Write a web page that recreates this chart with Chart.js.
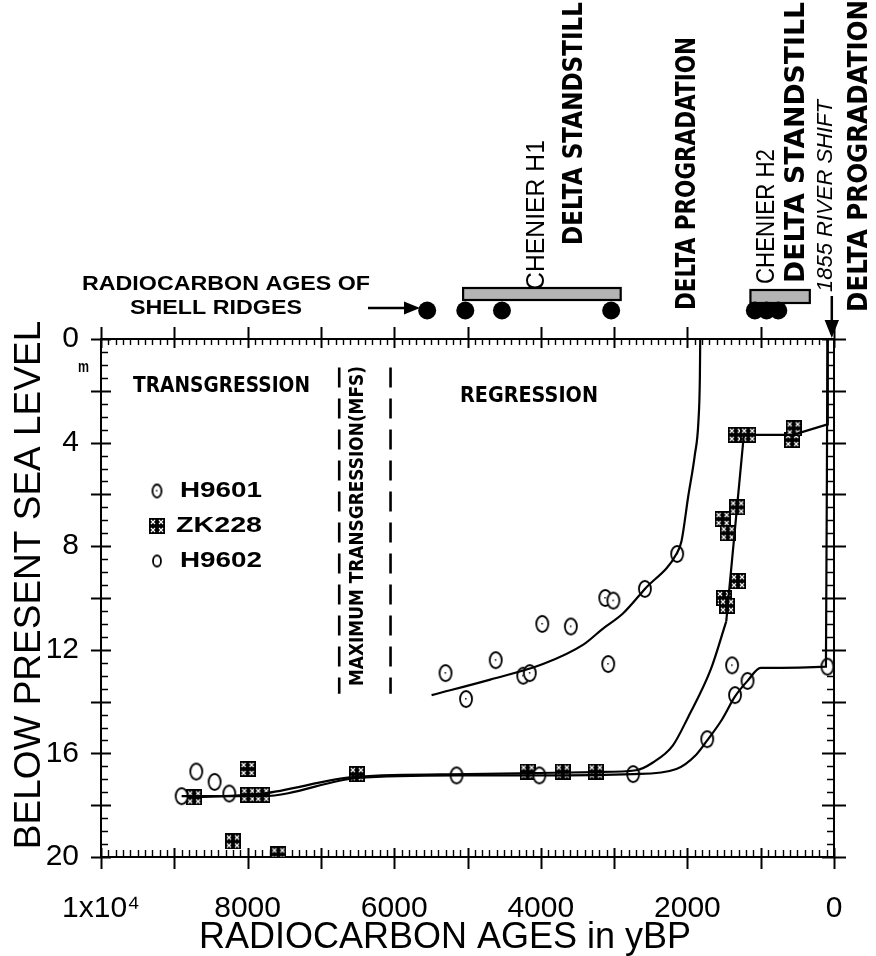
<!DOCTYPE html>
<html><head><meta charset="utf-8">
<script src="https://cdn.jsdelivr.net/npm/chart.js@4/dist/chart.umd.min.js"></script>
<style>html,body{margin:0;padding:0;background:#fff;}canvas{display:block;}</style>
</head><body>
<canvas id="c" width="876" height="956"></canvas>
<script>
// ---------- DATA ----------
const xTickValues = [10000, 8000, 6000, 4000, 2000, 0];
const xTickLabels = ['1x10⁴', '8000', '6000', '4000', '2000', '0'];
const yTickValues = [0, 4, 8, 12, 16, 20];
const seriesNames = ['H9601', 'ZK228', 'H9602'];
const xTitle = 'RADIOCARBON AGES in yBP';
const yTitle = 'BELOW PRESENT SEA LEVEL';

// H9601 samples (age yBP, depth m below present sea level)
const h9601Age   = [5300, 5020, 4615, 4240, 4150, 3980, 3590, 3080, 3120, 3010, 2580, 2140, 1390];
const h9601Depth = [12.9, 13.9, 12.4, 13.0, 12.9, 11.0, 11.1, 12.55, 10.0, 10.1, 9.65, 8.3, 12.6];

// ZK228 samples
const zk228Age   = [8730, 8000, 7990, 7800, 8200, 7580, 6510, 4180, 3700, 3250, 1520, 1450, 1320, 1500, 1460, 1310, 1340, 1170, 570, 550];
const zk228Depth = [17.7, 16.6, 17.6, 17.6, 19.4, 19.9, 16.8, 16.7, 16.7, 16.7, 6.95, 7.5, 6.5, 10.0, 10.3, 9.35, 3.7, 3.7, 3.9, 3.45];

// H9602 samples
const h9602Age   = [8900, 8700, 8450, 8250, 5150, 4020, 2740, 1730, 1350, 1180, 90];
const h9602Depth = [17.65, 16.7, 17.1, 17.55, 16.85, 16.85, 16.8, 15.45, 13.75, 13.2, 12.65];

// hand-drawn curves through the samples
const curveH9601Age   = [5490, 4690, 3970, 3420, 3160, 2880, 2580, 2140, 2080, 1990, 1900, 1850, 1830, 1825];
const curveH9601Depth = [13.75, 13.15, 12.55, 11.8, 11.2, 10.6, 9.65, 8.25, 7.8, 6.1, 4.5, 3.2, 1.5, 0];
const curveH9602Age   = [8900, 7800, 6500, 5150, 4000, 2740, 2150, 1880, 1730, 1530, 1350, 1180, 1000, 110, 90];
const curveH9602Depth = [17.65, 17.65, 16.95, 16.85, 16.85, 16.8, 16.6, 16.05, 15.5, 14.7, 13.8, 13.2, 12.7, 12.65, 0];
const curveZK228Age   = [8730, 7800, 6500, 5000, 3250, 2700, 2470, 2200, 1990, 1680, 1470];
const curveZK228Depth = [17.7, 17.55, 16.9, 16.8, 16.72, 16.65, 16.35, 15.7, 14.6, 12.75, 10.9];
const curveZK228UpperAge   = [1470, 1230, 560, 90, 85];
const curveZK228UpperDepth = [10.9, 3.7, 3.7, 3.3, 0];

// maximum transgression (MFS) bounds, yBP, and depth extent of the dashed lines
const mfsAges = [6750, 6050];
const mfsDepthRange = [1.1, 13.7];

// radiocarbon ages of shell ridges (yBP) and chenier standstill bars
const shellRidgeAge = [5550, 5030, 4530, 3040, 1080, 920, 760];
const chenierFrom = [5060, 1140];
const chenierTo   = [2910, 330];
const riverShiftAge = 30;

// ---------- MARKERS ----------
function ellipseMarker(w, h, dot) {
  const c = document.createElement('canvas'); c.width = w + 4; c.height = h + 4;
  const g = c.getContext('2d');
  g.fillStyle = '#fff'; g.strokeStyle = '#000'; g.lineWidth = 1.8;
  g.beginPath(); g.ellipse(c.width / 2, c.height / 2, w / 2, h / 2, 0, 0, Math.PI * 2); g.fill(); g.stroke();
  if (dot) { g.fillStyle = '#000'; g.fillRect(c.width / 2 - 1, c.height / 2 - 1, 1.5, 1.5); }
  return c;
}
function squareMarker(s) {
  const c = document.createElement('canvas'); c.width = s; c.height = s;
  const g = c.getContext('2d');
  g.fillStyle = '#000'; g.fillRect(0, 0, s, s);
  g.strokeStyle = '#fff'; g.lineWidth = 1.2;
  const q = s / 4;
  [[q, q], [3 * q, q], [q, 3 * q], [3 * q, 3 * q]].forEach(([cx, cy]) => {
    g.beginPath(); g.moveTo(cx - 2, cy - 2); g.lineTo(cx + 2, cy + 2); g.moveTo(cx + 2, cy - 2); g.lineTo(cx - 2, cy + 2); g.stroke();
  });
  return c;
}
const mkH9601 = ellipseMarker(12, 16, true);
const mkH9602 = ellipseMarker(12, 16, false);
const mkZK228 = squareMarker(16);
const mkLegH9601 = ellipseMarker(9, 13, true);
const mkLegH9602 = ellipseMarker(8, 11, false);

const pts = (a, d) => a.map((v, i) => ({ x: v, y: d[i] }));
const RIDGE_ROW = -1.1;

const SANS = "'Liberation Sans', Arial, sans-serif";
const STENCIL = "'DejaVu Sans', sans-serif";

function hText(ctx, text, x, y, font, width) {
  ctx.save(); ctx.font = font; const w = ctx.measureText(text).width;
  ctx.translate(x, y); ctx.scale(width / w, 1);
  ctx.textAlign = 'left'; ctx.textBaseline = 'middle'; ctx.fillStyle = '#000';
  ctx.fillText(text, 0, 0); ctx.restore();
}
function vText(ctx, text, x, yBottom, font, length) {
  ctx.save(); ctx.font = font; const w = ctx.measureText(text).width;
  ctx.translate(x, yBottom); ctx.rotate(-Math.PI / 2); ctx.scale(length / w, 1);
  ctx.textAlign = 'left'; ctx.textBaseline = 'middle'; ctx.fillStyle = '#000';
  ctx.fillText(text, 0, 0); ctx.restore();
}
function arrow(ctx, x1, y1, x2, y2, head) {
  const ang = Math.atan2(y2 - y1, x2 - x1);
  ctx.save(); ctx.strokeStyle = '#000'; ctx.fillStyle = '#000'; ctx.lineWidth = 2.5;
  ctx.beginPath(); ctx.moveTo(x1, y1);
  ctx.lineTo(x2 - Math.cos(ang) * head, y2 - Math.sin(ang) * head); ctx.stroke();
  ctx.beginPath(); ctx.moveTo(x2, y2);
  ctx.lineTo(x2 - Math.cos(ang) * head - Math.sin(ang) * head * 0.4, y2 - Math.sin(ang) * head + Math.cos(ang) * head * 0.4);
  ctx.lineTo(x2 - Math.cos(ang) * head + Math.sin(ang) * head * 0.4, y2 - Math.sin(ang) * head - Math.cos(ang) * head * 0.4);
  ctx.closePath(); ctx.fill(); ctx.restore();
}

const framePlugin = {
  id: 'frame',
  beforeDatasetsDraw(chart) {
    const { ctx, chartArea: { left, right, top, bottom }, scales: { x, y } } = chart;
    ctx.save(); ctx.strokeStyle = '#000';
    ctx.lineWidth = 2;
    ctx.strokeRect(left, top, right - left, bottom - top);
    for (let v = 0; v <= 10000; v += 100) {
      const px = Math.round(x.getPixelForValue(v)) + 0.5;
      ctx.beginPath();
      if (v % 1000 === 0) {
        ctx.lineWidth = 2;
        ctx.moveTo(px, top - 12); ctx.lineTo(px, top + 9);
        ctx.moveTo(px, bottom - 9); ctx.lineTo(px, bottom + 12);
      } else {
        ctx.lineWidth = 1.4;
        ctx.moveTo(px, top); ctx.lineTo(px, top + 6);
        ctx.moveTo(px, bottom); ctx.lineTo(px, bottom - 7);
      }
      ctx.stroke();
    }
    for (let v = 0; v <= 20; v += 0.5) {
      const py = Math.round(y.getPixelForValue(v)) + 0.5;
      ctx.beginPath();
      if (v % 2 === 0) {
        ctx.lineWidth = 2;
        ctx.moveTo(left - 10, py); ctx.lineTo(left + 10, py);
        ctx.moveTo(right - 12, py); ctx.lineTo(right + 12, py);
      } else {
        ctx.lineWidth = 1.4;
        ctx.moveTo(left, py); ctx.lineTo(left + 7, py);
        ctx.moveTo(right, py); ctx.lineTo(right - 7, py);
      }
      ctx.stroke();
    }
    // chenier standstill bars
    const barRows = [[288, 300], [290, 303]];
    chenierFrom.forEach((a, i) => {
      const x1 = x.getPixelForValue(a), x2 = x.getPixelForValue(chenierTo[i]);
      const [y1, y2] = barRows[i];
      ctx.fillStyle = '#b4b4b4'; ctx.fillRect(x1, y1, x2 - x1, y2 - y1);
      ctx.lineWidth = 2.2; ctx.strokeRect(x1, y1, x2 - x1, y2 - y1);
    });
    // radiocarbon ages of shell ridges (drawn outside the plot area)
    ctx.fillStyle = '#000';
    const ry = y.getPixelForValue(RIDGE_ROW);
    shellRidgeAge.forEach(a => {
      ctx.beginPath(); ctx.arc(x.getPixelForValue(a), ry, 9, 0, Math.PI * 2); ctx.fill();
    });
    ctx.restore();
  },
  afterDraw(chart) {
    const { ctx, scales: { x } } = chart;
    // axis titles
    ctx.save(); ctx.fillStyle = '#000'; ctx.textAlign = 'center'; ctx.textBaseline = 'middle';
    ctx.font = '36px ' + SANS; ctx.fillText(xTitle, 445, 938);
    ctx.translate(30, 585); ctx.rotate(-Math.PI / 2); ctx.font = '37px ' + SANS; ctx.fillText(yTitle, 0, 0);
    ctx.restore();

    hText(ctx, 'RADIOCARBON AGES OF', 82, 284, 'bold 20px ' + SANS, 288);
    hText(ctx, 'SHELL RIDGES', 130, 308, 'bold 20px ' + SANS, 172);
    arrow(ctx, 368, 308, 420, 308, 16);
    hText(ctx, 'TRANSGRESSION', 133, 386, 'bold 22px ' + STENCIL, 177);
    hText(ctx, 'REGRESSION', 460, 396, 'bold 22px ' + STENCIL, 138);
    hText(ctx, 'm', 78, 368, 'bold 16px ' + SANS, 11);
    vText(ctx, 'MAXIMUM TRANSGRESSION(MFS)', 358, 686, 'bold 20px ' + STENCIL, 320);
    vText(ctx, 'CHENIER H1', 537, 290, '26px ' + SANS, 150);
    vText(ctx, 'DELTA STANDSTILL', 575, 245, 'bold 26px ' + STENCIL, 243);
    vText(ctx, 'DELTA PROGRADATION', 688, 310, 'bold 26px ' + STENCIL, 273);
    vText(ctx, 'CHENIER H2', 767, 284, '26px ' + SANS, 135);
    vText(ctx, 'DELTA STANDSTILL', 797, 283, 'bold 26px ' + STENCIL, 281);
    vText(ctx, '1855 RIVER SHIFT', 826, 292, 'italic 22px ' + SANS, 192);
    vText(ctx, 'DELTA PROGRADATION', 860, 312, 'bold 26px ' + STENCIL, 312);
    const ax = x.getPixelForValue(riverShiftAge);
    arrow(ctx, ax, 296, ax, 338, 18);
    // legend
    const leg = [[mkLegH9601, 491], [mkZK228, 526], [mkLegH9602, 561]];
    leg.forEach(([m, yy], i) => {
      ctx.drawImage(m, 157 - m.width / 2, yy - m.height / 2);
      hText(ctx, seriesNames[i], i === 1 ? 176 : 180, yy, 'bold 22px ' + SANS, i === 1 ? 86 : 82);
    });
  }
};

const lineDs = (a, d, mode) => ({
  data: pts(a, d), showLine: true, pointRadius: 0, borderColor: '#000', borderWidth: 2.2,
  cubicInterpolationMode: mode === 'mono' ? 'monotone' : 'default', tension: 0, clip: false
});

new Chart(document.getElementById('c'), {
  type: 'scatter',
  data: {
    datasets: [
      lineDs(curveH9601Age, curveH9601Depth, 'mono'),
      lineDs(curveH9602Age, curveH9602Depth, 'mono'),
      lineDs(curveZK228Age, curveZK228Depth, 'mono'),
      lineDs(curveZK228UpperAge, curveZK228UpperDepth, 'straight'),
      ...mfsAges.map(a => ({ data: [{ x: a, y: mfsDepthRange[0] }, { x: a, y: mfsDepthRange[1] }], showLine: true, pointRadius: 0, borderColor: '#000', borderWidth: 2.6, borderDash: [20, 11] })),
      { label: seriesNames[0], data: pts(h9601Age, h9601Depth), pointStyle: mkH9601, showLine: false },
      { label: seriesNames[2], data: pts(h9602Age, h9602Depth), pointStyle: mkH9602, showLine: false },
      { label: seriesNames[1], data: pts(zk228Age, zk228Depth), pointStyle: mkZK228, showLine: false }
    ]
  },
  options: {
    responsive: false, animation: false, devicePixelRatio: 1,
    layout: { padding: { top: 339, right: 42, bottom: 0, left: 0 } },
    plugins: { legend: { display: false }, tooltip: { enabled: false } },
    scales: {
      x: {
        type: 'linear', min: 0, max: 10000, reverse: true,
        afterBuildTicks: s => { s.ticks = xTickValues.map(v => ({ value: v })); },
        afterFit: s => { s.height = 99; },
        grid: { display: false }, border: { display: false },
        ticks: { autoSkip: false, maxRotation: 0, padding: 26, color: '#000', font: { family: SANS, size: 30 },
          callback: v => xTickLabels[xTickValues.indexOf(v)] },
        title: { display: false }
      },
      y: {
        type: 'linear', min: 0, max: 20, reverse: true,
        afterBuildTicks: s => { s.ticks = yTickValues.map(v => ({ value: v })); },
        afterFit: s => { s.width = 101; },
        grid: { display: false }, border: { display: false },
        ticks: { autoSkip: false, padding: 14, color: '#000', font: { family: SANS, size: 30 } },
        title: { display: false }
      }
    }
  },
  plugins: [framePlugin]
});
</script>
</body></html>
